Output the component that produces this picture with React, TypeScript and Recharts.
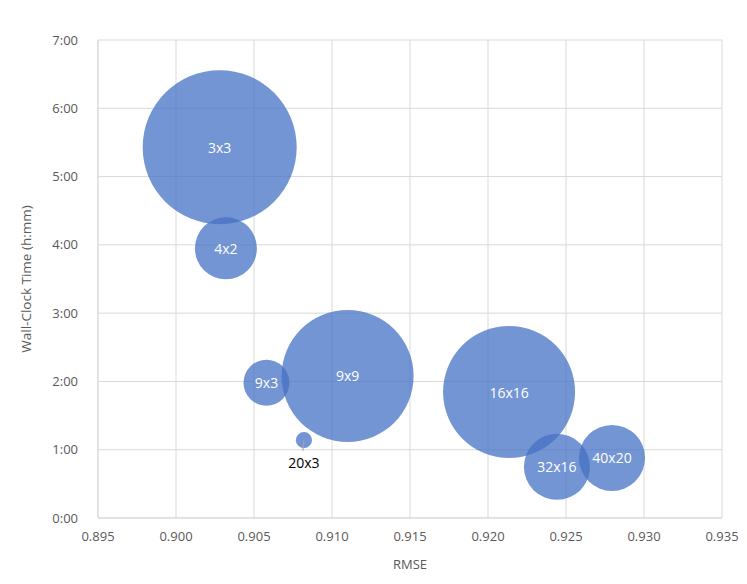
import { ScatterChart, Scatter, XAxis, YAxis, ZAxis, CartesianGrid, LabelList } from "recharts";

// grid configurations (labels)
const names = ["3x3", "4x2", "9x3", "9x9", "20x3", "16x16", "32x16", "40x20"];
// RMSE per configuration
const rmse = [0.9028, 0.9032, 0.9058, 0.9110, 0.9082, 0.92135, 0.92442, 0.92795];
// wall-clock time in hours
const hours = [5.43, 3.95, 1.98, 2.08, 1.14, 1.845, 0.75, 0.88];
// bubble size (relative)
const sizes = [100, 16.2, 8.9, 73.5, 1.1, 73.5, 18.4, 18.4];

const xTicks = [0.895, 0.9, 0.905, 0.91, 0.915, 0.92, 0.925, 0.93, 0.935];
const yTicks = [0, 1, 2, 3, 4, 5, 6, 7];

const data = names.map((name, i) => ({ name, x: rmse[i], y: hours[i], z: sizes[i] }));

const FONT = "'Open Sans', sans-serif";
const GRID = "#d9d9d9";
const TEXT = "#595959";

const fmtTime = (v: number) => {
  const h = Math.floor(v);
  const m = Math.round((v - h) * 60);
  return `${h}:${String(m).padStart(2, "0")}`;
};

const BubbleLabel = (props: any) => {
  const { x, y, width, height, value } = props;
  const cx = x + width / 2;
  const cy = y + height / 2;
  if (value === "20x3") {
    return (
      <g>
        <line x1={cx} y1={cy} x2={cx - 1} y2={cy + 11} stroke="#a6a6a6" strokeWidth={1} />
        <text x={cx} y={cy + 22} textAnchor="middle" dominantBaseline="central" fill="#000" fontSize={14} fontFamily={FONT}>
          {value}
        </text>
      </g>
    );
  }
  return (
    <text x={cx} y={cy} textAnchor="middle" dominantBaseline="central" fill="#fff" fontSize={14} fontFamily={FONT}>
      {value}
    </text>
  );
};

export default function App() {
  return (
    <div style={{ position: "absolute", left: 0, top: 0, width: 747, height: 584, background: "#fff" }}>
      <ScatterChart width={747} height={584} margin={{ top: 40, right: 25, bottom: 0, left: 0 }}>
        <CartesianGrid stroke={GRID} />
        <XAxis
          type="number"
          dataKey="x"
          domain={[0.895, 0.935]}
          ticks={xTicks}
          tickFormatter={(v: number) => v.toFixed(3)}
          axisLine={{ stroke: GRID }}
          tickLine={false}
          tick={{ fill: TEXT, fontSize: 13, fontFamily: FONT }}
          tickMargin={8}
          height={66}
          allowDataOverflow
          label={{ value: "RMSE", position: "insideBottom", offset: 15, fill: TEXT, fontSize: 13, fontFamily: FONT }}
        />
        <YAxis
          type="number"
          dataKey="y"
          domain={[0, 7]}
          ticks={yTicks}
          tickFormatter={fmtTime}
          axisLine={{ stroke: GRID }}
          tickLine={false}
          tick={{ fill: TEXT, fontSize: 13, fontFamily: FONT }}
          tickMargin={14}
          width={98}
          label={{ value: "Wall-Clock Time (h:mm)", angle: -90, position: "insideLeft", offset: 26, style: { textAnchor: "middle" }, fill: TEXT, fontSize: 13.5, fontFamily: FONT }}
        />
        <ZAxis type="number" dataKey="z" domain={[0, 100]} range={[0, Math.PI * 77 * 77]} />
        <Scatter data={data} fill="#4472C4" fillOpacity={0.75} isAnimationActive={false}>
          <LabelList dataKey="name" content={BubbleLabel} />
        </Scatter>
      </ScatterChart>
    </div>
  );
}
